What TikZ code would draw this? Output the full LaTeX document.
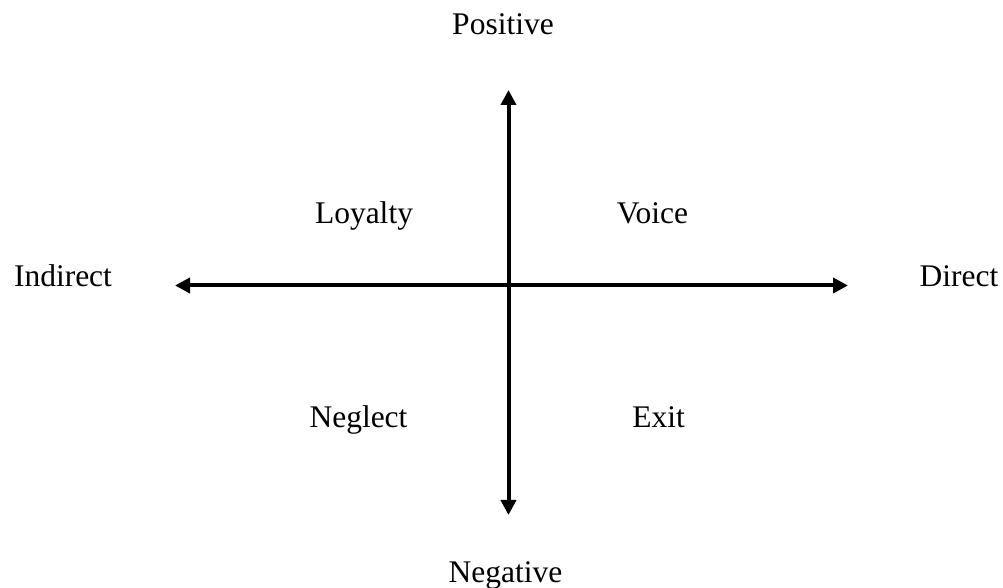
\documentclass[tikz,border=0pt]{standalone}
\usepackage{fontspec}
\setmainfont{Liberation Serif}
\usetikzlibrary{arrows.meta}
\tikzset{
  axis/.style={line width=2pt, {Triangle[length=7.5pt,width=7.5pt]}-{Triangle[length=7.5pt,width=7.5pt]}},
  lbl/.style={inner sep=0pt, anchor=base, font=\fontsize{15.75pt}{18pt}\selectfont}
}
\begin{document}
\begin{tikzpicture}[x=0.5pt,y=-0.5pt]
\useasboundingbox (0,0) rectangle (1003,588);
\coordinate (left) at (175,285.5);
\coordinate (right) at (848,285.5);
\coordinate (top) at (508.5,90);
\coordinate (bottom) at (508.5,515);
\draw[axis] (left) -- (right);
\draw[axis] (top) -- (bottom);
\node[lbl] (pos) at (503,35) {Positive};
\node[lbl] (neg) at (505.5,582) {Negative};
\node[lbl] (ind) at (63,287) {Indirect};
\node[lbl] (dir) at (959,287) {Direct};
\node[lbl] (loy) at (364,224) {Loyalty};
\node[lbl] (voi) at (652.5,224) {Voice};
\node[lbl] (negl) at (358.5,428) {Neglect};
\node[lbl] (exit) at (658.5,428) {Exit};
\end{tikzpicture}
\end{document}
